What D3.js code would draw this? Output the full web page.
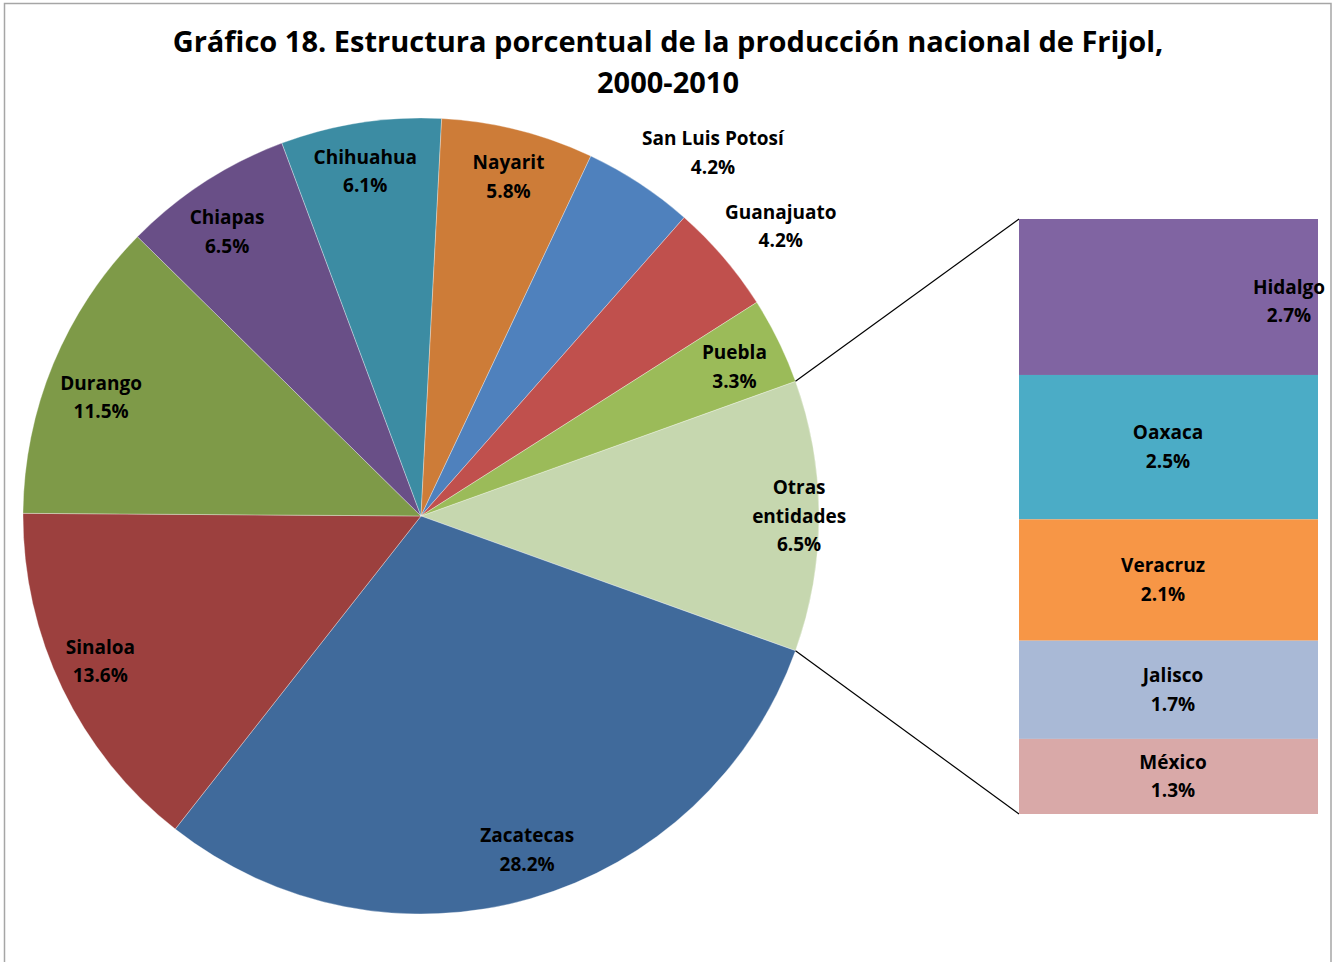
<!DOCTYPE html>
<html>
<head>
<meta charset="utf-8">
<script src="https://cdn.jsdelivr.net/npm/d3@7"></script>
<style>
  body { margin: 0; background: #fff; }
  text { font-family: "Open Sans", Lato, sans-serif; font-weight: bold; fill: #000; }
</style>
</head>
<body>
<div id="chart"></div>
<script>
// main pie, clockwise from the "other" slice at 3 o'clock
var pieNames = ["Otras entidades", "Zacatecas", "Sinaloa", "Durango", "Chiapas", "Chihuahua", "Nayarit", "San Luis Potosí", "Guanajuato", "Puebla"];
var pieLabels = ["6.5%", "28.2%", "13.6%", "11.5%", "6.5%", "6.1%", "5.8%", "4.2%", "4.2%", "3.3%"];
var pieValues = [null, 28.2, 13.6, 11.5, 6.5, 6.1, 5.8, 4.2, 4.2, 3.3];
var pieColors = ["#c6d7af", "#406a9b", "#9c403e", "#7e9a48", "#694f87", "#3c8ca3", "#cd7c38", "#4f81bd", "#c0504d", "#9bbb59"];

// secondary bar (the "other" slice split up)
var barNames = ["Hidalgo", "Oaxaca", "Veracruz", "Jalisco", "México"];
var barValues = [2.7, 2.5, 2.1, 1.7, 1.3];
var barColors = ["#8064a2", "#4bacc6", "#f79646", "#a9b9d6", "#d9a9a8"];

var titleLines = ["Gráfico 18. Estructura porcentual de la producción nacional de Frijol,", "2000-2010"];

pieValues[0] = d3.sum(barValues);

var W = 1333, H = 962;
var cx = 421, cy = 516, R = 398;

// label placement tweaks (angle shift in radians, radius as fraction of R)
var labelNudge = {
    "Otras entidades": [0, 0.95],
    "Zacatecas": [-0.028, 0.88],
    "Sinaloa": [0.023, 0.885],
    "Durango": [-0.038, 0.857],
    "Chiapas": [-0.024, 0.864],
    "Chihuahua": [-0.008, 0.877],
    "Nayarit": [0.006, 0.88],
    "San Luis Potosí": [0.096, 1.17],
    "Guanajuato": [0.03, 1.16],
    "Puebla": [0.012, 0.872]
};

var svg = d3.select("#chart").append("svg")
    .attr("width", W)
    .attr("height", H);

svg.append("rect")
    .attr("x", 4.5).attr("y", 3.5)
    .attr("width", 1326.5).attr("height", H + 10)
    .attr("fill", "#fff")
    .attr("stroke", "#a6a6a6")
    .attr("stroke-width", 1.5);

// title
svg.append("text")
    .attr("x", 668).attr("y", 52)
    .attr("text-anchor", "middle")
    .style("font-size", "29px")
    .selectAll("tspan")
    .data(titleLines)
    .enter().append("tspan")
    .attr("x", 668)
    .attr("dy", function(d, i) { return i ? 41 : 0; })
    .text(function(d) { return d; });

// pie
var otherSpan = pieValues[0] / d3.sum(pieValues) * 2 * Math.PI;
var pie = d3.pie()
    .sort(null)
    .value(function(d) { return d; })
    .startAngle(Math.PI / 2 - otherSpan / 2)
    .endAngle(Math.PI / 2 - otherSpan / 2 + 2 * Math.PI);

var arcs = pie(pieValues);
var arc = d3.arc().innerRadius(0).outerRadius(R);

var g = svg.append("g").attr("transform", "translate(" + cx + "," + cy + ")");

g.selectAll("path")
    .data(arcs)
    .enter().append("path")
    .attr("d", arc)
    .attr("fill", function(d, i) { return pieColors[i]; })
    .attr("stroke", "#fff")
    .attr("stroke-opacity", 0.4)
    .attr("stroke-width", 0.8);

var lineH = 28.5;
var labels = g.selectAll("text.lbl")
    .data(arcs)
    .enter().append("text")
    .attr("class", "lbl")
    .attr("text-anchor", "middle")
    .style("font-size", "19px")
    .attr("transform", function(d, i) {
        var n = labelNudge[pieNames[i]];
        var a = (d.startAngle + d.endAngle) / 2 + n[0];
        return "translate(" + Math.sin(a) * R * n[1] + "," + (-Math.cos(a) * R * n[1]) + ")";
    });

labels.each(function(d, i) {
    var lines = pieNames[i] === "Otras entidades" ? ["Otras", "entidades"] : [pieNames[i]];
    lines.push(pieLabels[i]);
    var t = d3.select(this);
    var top = -(lines.length - 1) * lineH / 2 + 6.5;
    lines.forEach(function(l, k) {
        t.append("tspan").attr("x", 0).attr("y", top + k * lineH).text(l);
    });
});

// bar of pie
var barX = 1019, barW = 299, barTop = 219, barBottom = 814;
var y = d3.scaleLinear()
    .domain([0, d3.sum(barValues)])
    .range([barTop, barBottom]);

var cum = 0;
var stack = barValues.map(function(v, i) {
    var s = { name: barNames[i], value: v, y0: cum, y1: cum + v };
    cum += v;
    return s;
});

// connector lines from the edges of the "other" slice
var oa = arcs[0];
[oa.startAngle, oa.endAngle].forEach(function(a, k) {
    svg.append("line")
        .attr("x1", cx + Math.sin(a) * R)
        .attr("y1", cy - Math.cos(a) * R)
        .attr("x2", barX)
        .attr("y2", k ? y(cum) : y(0))
        .attr("stroke", "#000")
        .attr("stroke-width", 1.2);
});

var bars = svg.append("g");
bars.selectAll("rect")
    .data(stack)
    .enter().append("rect")
    .attr("x", barX)
    .attr("width", barW)
    .attr("y", function(d) { return y(d.y0); })
    .attr("height", function(d) { return y(d.y1) - y(d.y0); })
    .attr("fill", function(d, i) { return barColors[i]; });

var barLabelX = [1289, 1168, 1163, 1173, 1173];
bars.selectAll("text")
    .data(stack)
    .enter().append("text")
    .attr("text-anchor", "middle")
    .style("font-size", "19px")
    .each(function(d, i) {
        var t = d3.select(this);
        var my = (y(d.y0) + y(d.y1)) / 2;
        if (i === 0) my = y(d.y0) + (y(d.y1) - y(d.y0)) * 0.53;
        t.append("tspan").attr("x", barLabelX[i]).attr("y", my - lineH / 2 + 6.5).text(d.name);
        t.append("tspan").attr("x", barLabelX[i]).attr("y", my + lineH / 2 + 6.5).text(d3.format(".1f")(d.value) + "%");
    });
</script>
</body>
</html>
